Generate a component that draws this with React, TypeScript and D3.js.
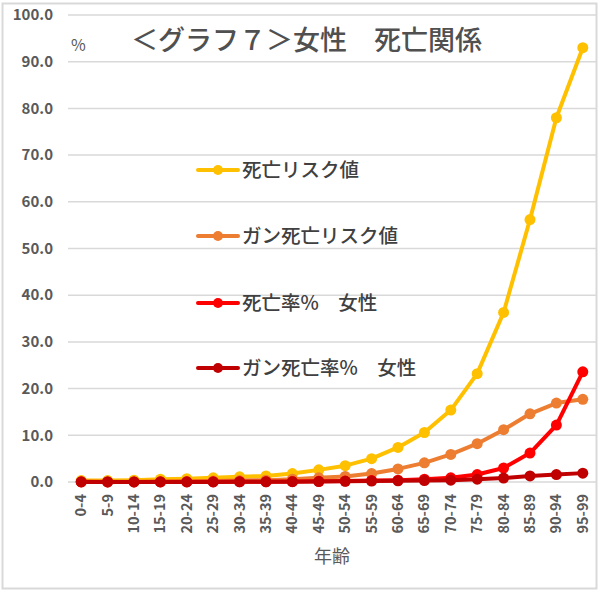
import React from "react";
import * as d3 from "d3";

const ageGroups = [
  "0-4", "5-9", "10-14", "15-19", "20-24", "25-29", "30-34", "35-39", "40-44", "45-49",
  "50-54", "55-59", "60-64", "65-69", "70-74", "75-79", "80-84", "85-89", "90-94", "95-99",
];

const deathRisk = [0.3, 0.3, 0.4, 0.6, 0.7, 0.9, 1.1, 1.3, 1.8, 2.6, 3.5, 5.0, 7.4, 10.6, 15.4, 23.2, 36.3, 56.2, 78.0, 93.0];
const cancerRisk = [0.05, 0.05, 0.05, 0.05, 0.1, 0.2, 0.3, 0.4, 0.6, 0.9, 1.2, 1.8, 2.8, 4.1, 5.9, 8.2, 11.2, 14.6, 16.9, 17.7];
const deathRate = [0.05, 0.02, 0.02, 0.03, 0.04, 0.05, 0.06, 0.08, 0.1, 0.15, 0.2, 0.3, 0.4, 0.6, 0.9, 1.6, 3.0, 6.2, 12.2, 23.6];
const cancerRate = [0.01, 0.01, 0.01, 0.01, 0.01, 0.02, 0.03, 0.05, 0.07, 0.1, 0.15, 0.2, 0.25, 0.3, 0.4, 0.6, 0.85, 1.3, 1.6, 1.9];

const yTicks = [0, 10, 20, 30, 40, 50, 60, 70, 80, 90, 100];

const seriesNames = ["死亡リスク値", "ガン死亡リスク値", "死亡率%　女性", "ガン死亡率%　女性"];
const seriesColors = ["#FFC000", "#ED7D31", "#FF0000", "#C00000"];

const font = "'Noto Sans CJK JP', 'Noto Sans', sans-serif";

export default function App() {
  const W = 600, H = 598;
  const left = 68, right = 596, top = 15, bottom = 482;

  const x = d3.scalePoint<string>().domain(ageGroups).range([left, right]).padding(0.5);
  const y = d3.scaleLinear().domain([0, 100]).range([bottom, top]);

  const line = d3.line<number>()
    .x((_, i) => x(ageGroups[i]) as number)
    .y(d => y(d));

  const all = [deathRisk, cancerRisk, deathRate, cancerRate];

  // legend rows sit inside the plot
  const legendY = [170, 236, 303, 368];

  return (
    <svg width={W} height={H} style={{ position: "absolute", left: 0, top: 0, background: "#fff" }}>
      <rect x={2.5} y={3.5} width={594} height={585} fill="#fff" stroke="#d9d9d9" strokeWidth={2} />

      {yTicks.map(t => (
        <g key={t}>
          <line x1={left} x2={right} y1={y(t)} y2={y(t)} stroke="#d9d9d9" strokeWidth={1.5} />
          <text x={53} y={y(t)} dy="0.35em" textAnchor="end" fontSize={15} fontWeight={700}
            fill="#595959" fontFamily={font}>{t.toFixed(1)}</text>
        </g>
      ))}

      {ageGroups.map(a => (
        <text key={a} transform={`translate(${x(a)},${494}) rotate(-90)`} dy="0.35em" textAnchor="end"
          fontSize={14.5} fontWeight={700} fill="#595959" fontFamily={font}>{a}</text>
      ))}

      <text x={(left + right) / 2} y={563} textAnchor="middle" fontSize={18} fill="#595959" fontFamily={font}>年齢</text>
      <text x={71} y={51} fontSize={16} fill="#595959" fontFamily={font}>%</text>
      <text x={131} y={50} fontSize={27} fontWeight={500} fill="#505050" fontFamily={font}>＜グラフ７＞女性　死亡関係</text>

      {seriesNames.map((n, i) => (
        <g key={n}>
          <line x1={198} x2={238} y1={legendY[i]} y2={legendY[i]} stroke={seriesColors[i]} strokeWidth={4} strokeLinecap="round" />
          <circle cx={218} cy={legendY[i]} r={5} fill={seriesColors[i]} />
          <text x={242} y={legendY[i]} dy="0.35em" fontSize={19.5} fontWeight={500} fill="#404040" fontFamily={font}>{n}</text>
        </g>
      ))}

      {all.map((s, k) => (
        <g key={k}>
          <path d={line(s) || ""} fill="none" stroke={seriesColors[k]} strokeWidth={4} strokeLinejoin="round" />
          {s.map((v, i) => (
            <circle key={i} cx={x(ageGroups[i])} cy={y(v)} r={5.5} fill={seriesColors[k]} />
          ))}
        </g>
      ))}
    </svg>
  );
}
